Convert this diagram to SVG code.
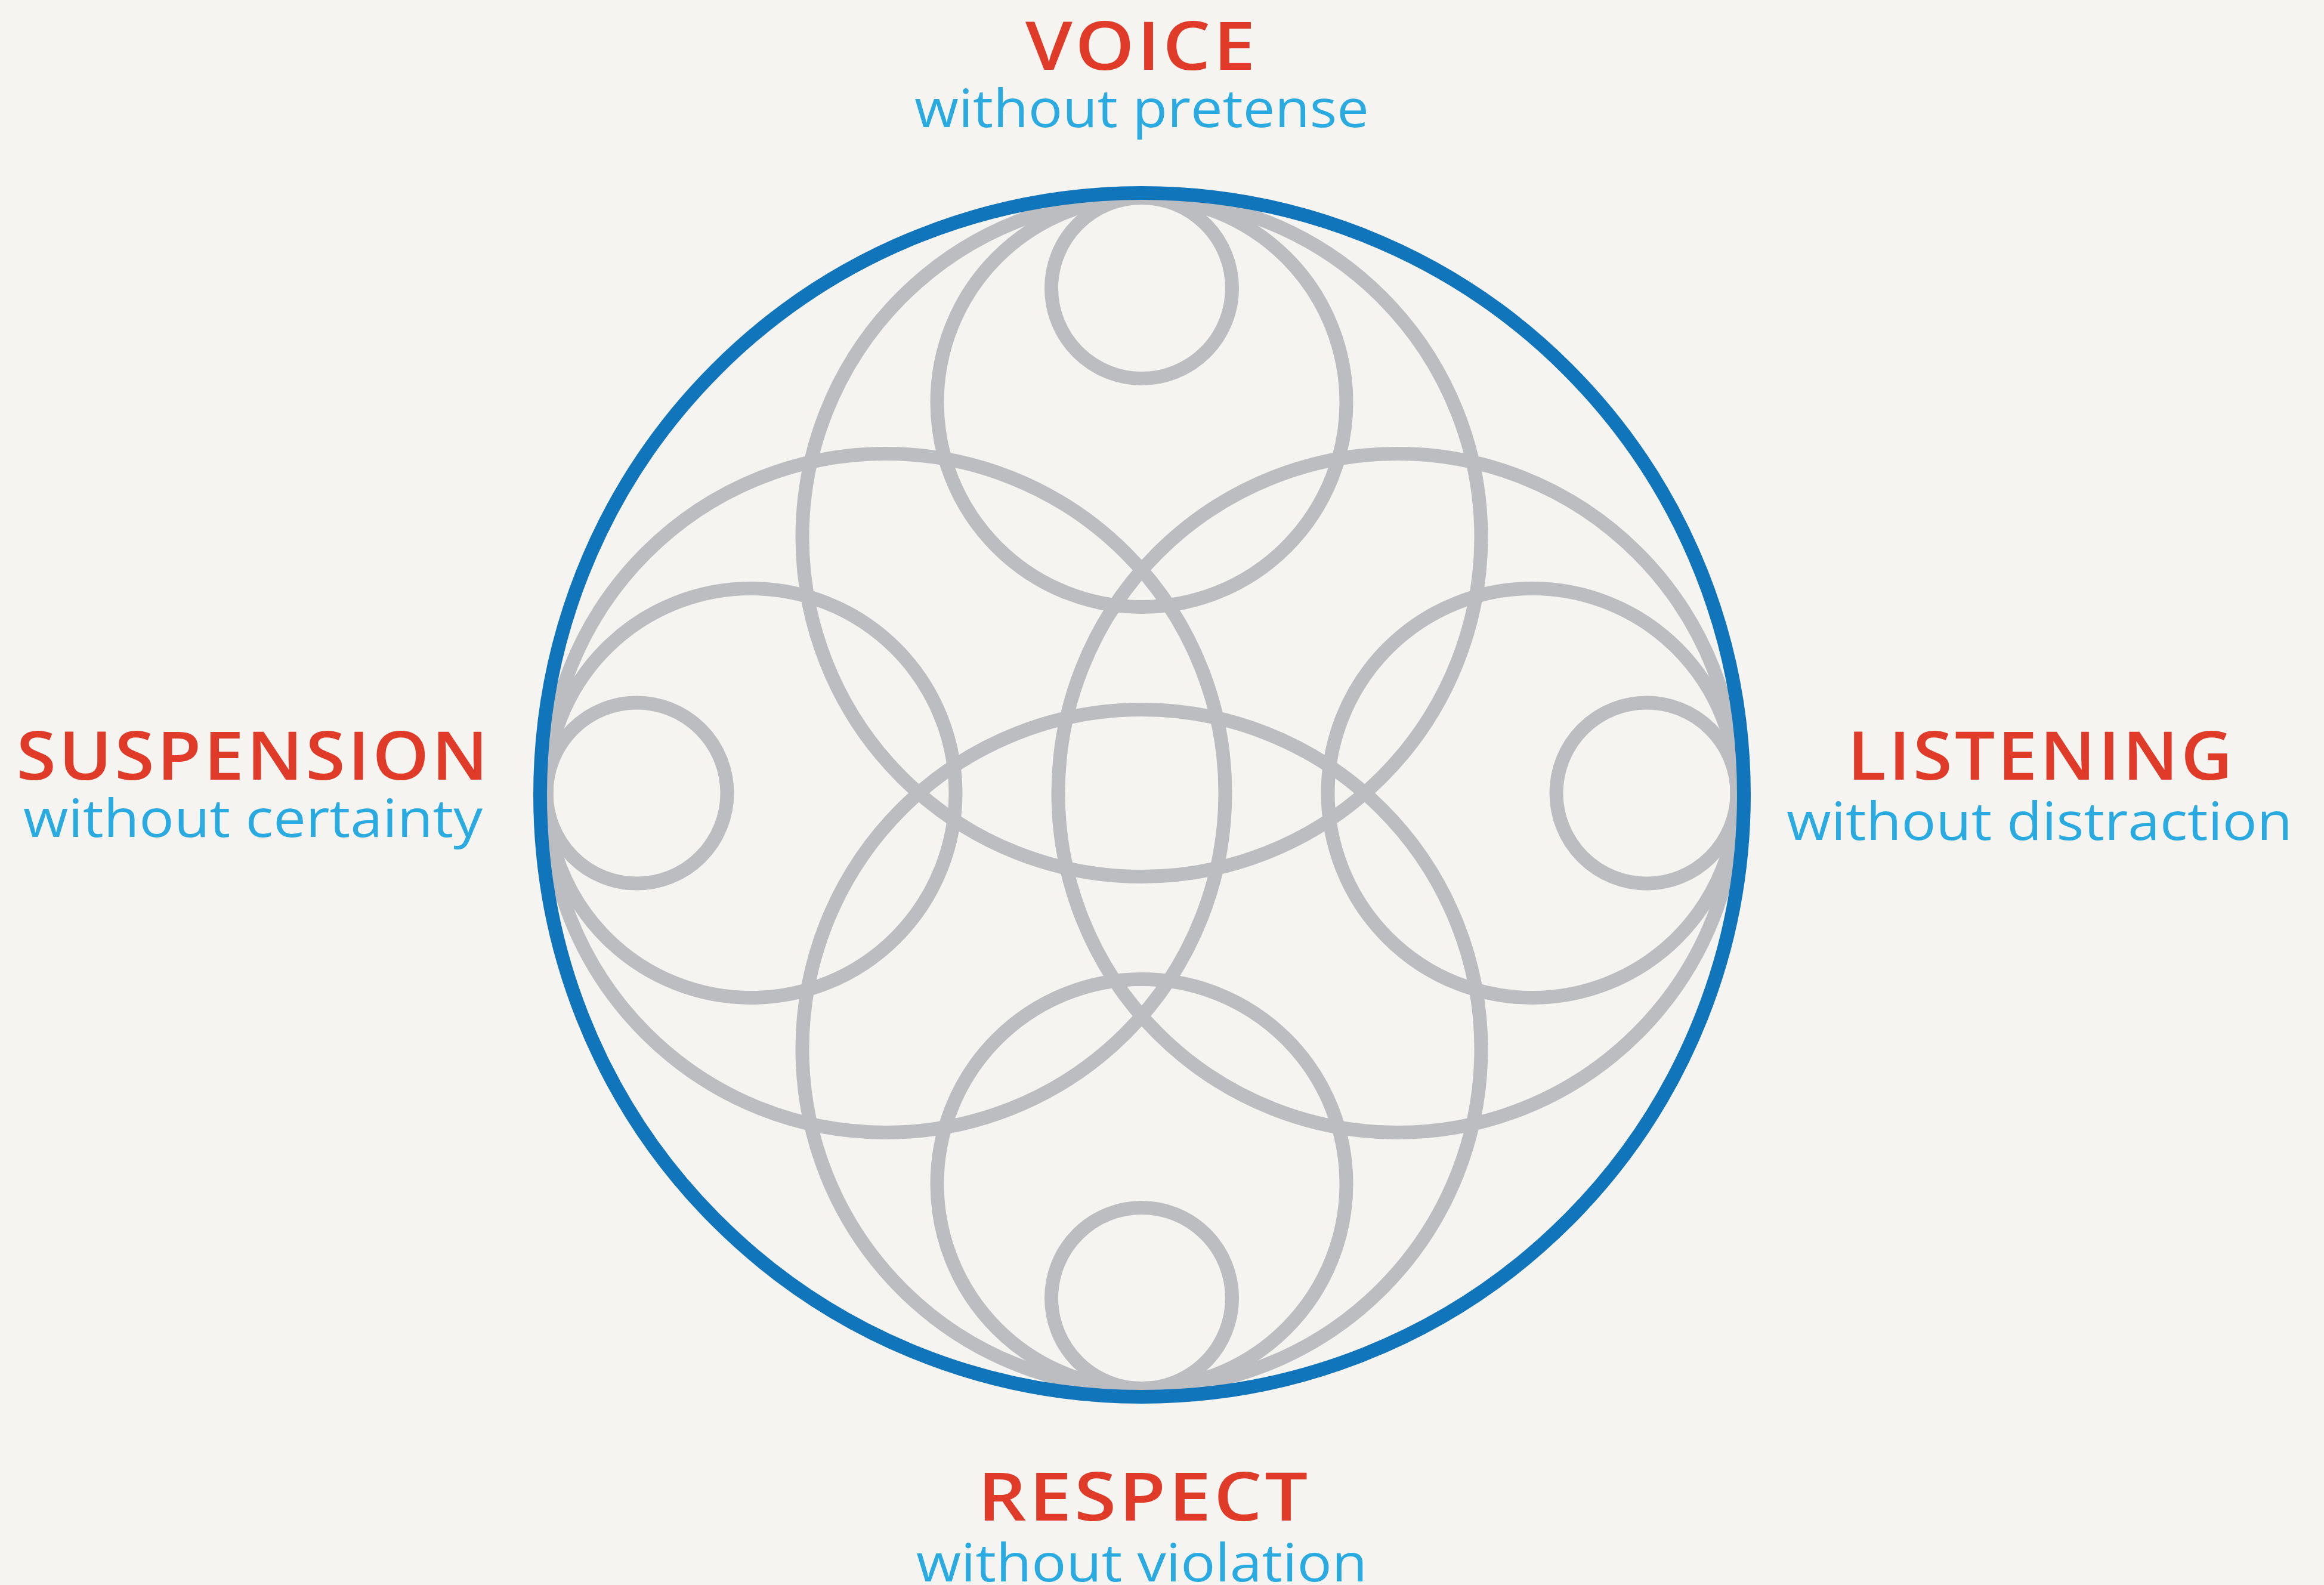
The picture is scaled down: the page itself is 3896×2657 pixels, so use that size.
<svg xmlns="http://www.w3.org/2000/svg" width="3896" height="2657" viewBox="0 0 3896 2657">
  <style>
    .ring { fill: none; stroke: #BCBDC0; stroke-width: 23; }
    .rim { fill: none; stroke: #1175BB; stroke-width: 23; }
    .title { font-family: "Open Sans", "Liberation Sans", sans-serif; font-size: 112px; font-weight: 600; fill: #E03A28; text-anchor: middle; letter-spacing: 4px; }
    .sub { font-family: "Open Sans", "Liberation Sans", sans-serif; font-size: 88px; font-weight: 500; fill: #29AAE1; text-anchor: middle; }
  </style>
  <rect width="3896" height="2657" fill="#F5F4F0"/>

  <!-- interlocking circles, each touching the rim at the top, bottom, left or right point -->
  <g id="pattern">
    <g id="top-circles">
      <circle class="ring" cx="1914" cy="483" r="151.5"/>
      <circle class="ring" cx="1914" cy="674.5" r="343"/>
      <circle class="ring" cx="1914" cy="900.5" r="569"/>
    </g>
    <g id="bottom-circles">
      <circle class="ring" cx="1914" cy="2176" r="151.5"/>
      <circle class="ring" cx="1914" cy="1984.5" r="343"/>
      <circle class="ring" cx="1914" cy="1758.5" r="569"/>
    </g>
    <g id="left-circles">
      <circle class="ring" cx="1067.5" cy="1329.5" r="151.5"/>
      <circle class="ring" cx="1259" cy="1329.5" r="343"/>
      <circle class="ring" cx="1485" cy="1329.5" r="569"/>
    </g>
    <g id="right-circles">
      <circle class="ring" cx="2760.5" cy="1329.5" r="151.5"/>
      <circle class="ring" cx="2569" cy="1329.5" r="343"/>
      <circle class="ring" cx="2343" cy="1329.5" r="569"/>
    </g>
    <circle id="outer-rim" class="rim" cx="1914.5" cy="1332.5" r="1009"/>
  </g>

  <g id="connectors"/>

  <g id="voice">
    <text class="title" x="1914" y="117" textLength="390" lengthAdjust="spacingAndGlyphs">VOICE</text>
    <text class="sub" x="1914" y="213" textLength="762" lengthAdjust="spacingAndGlyphs">without pretense</text>
  </g>
  <g id="suspension">
    <text class="title" x="425" y="1307" textLength="795" lengthAdjust="spacingAndGlyphs">SUSPENSION</text>
    <text class="sub" x="424" y="1403" textLength="770" lengthAdjust="spacingAndGlyphs">without certainty</text>
  </g>
  <g id="listening">
    <text class="title" x="3422" y="1307" textLength="650" lengthAdjust="spacingAndGlyphs">LISTENING</text>
    <text class="sub" x="3419" y="1408" textLength="848" lengthAdjust="spacingAndGlyphs">without distraction</text>
  </g>
  <g id="respect">
    <text class="title" x="1918" y="2549" textLength="558" lengthAdjust="spacingAndGlyphs">RESPECT</text>
    <text class="sub" x="1914" y="2651" textLength="756" lengthAdjust="spacingAndGlyphs">without violation</text>
  </g>
</svg>
